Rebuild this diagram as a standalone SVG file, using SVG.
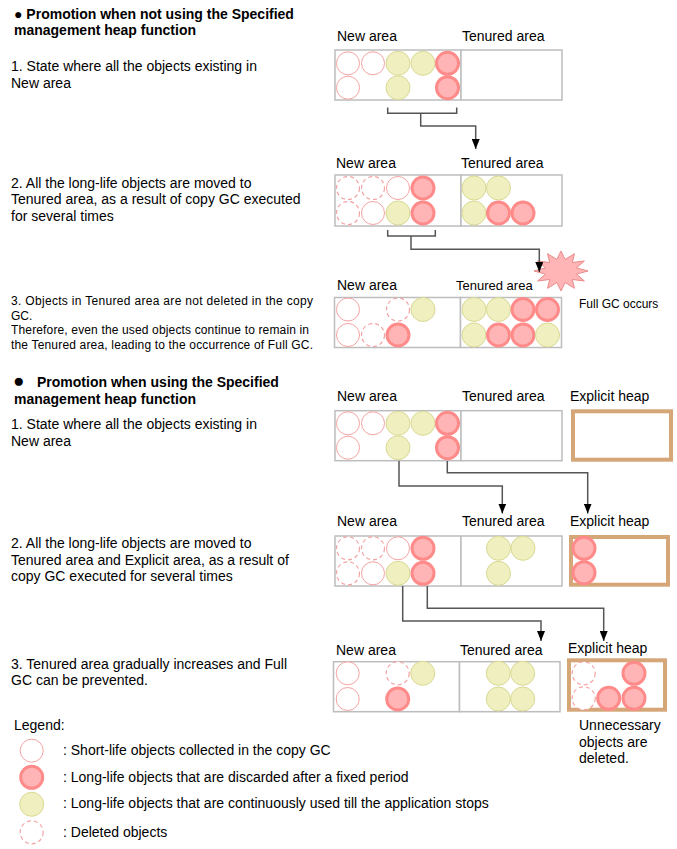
<svg xmlns="http://www.w3.org/2000/svg" width="677" height="849" viewBox="0 0 677 849">
<style>
text{font-family:"Liberation Sans",Arial,sans-serif;font-size:14px;fill:#000}
.b{font-weight:bold}
.sm{font-size:12px}
.box{fill:#fff;stroke:#bdbdbd;stroke-width:1.5}
.exp{fill:#fff;stroke:#d5a677;stroke-width:4}
.s{fill:#fff;stroke:#f4a3a3;stroke-width:1}
.d{fill:#fff;stroke:#f4a3a3;stroke-width:1.2;stroke-dasharray:4 3}
.l{fill:#ffb5b5;stroke:#ff8a8a;stroke-width:3}
.y{fill:#efefc0;stroke:#d9d994;stroke-width:1}
.c{fill:none;stroke:#555;stroke-width:1.5}
.a{marker-end:url(#ah)}
</style>
<defs>
<marker id="ah" viewBox="0 0 10 8" refX="10" refY="4" markerWidth="10" markerHeight="8" orient="auto" markerUnits="userSpaceOnUse">
<path d="M0,0 L10,4 L0,8 z" fill="#000"/>
</marker>
</defs>

<g id="texts-left">
<text class="b" x="14" y="19">● Promotion when not using the Specified</text>
<text class="b" x="14" y="35">management heap function</text>
<text x="11" y="71">1. State where all the objects existing in</text>
<text x="11" y="88">New area</text>
<text x="11" y="188">2. All the long-life objects are moved to</text>
<text x="11" y="204">Tenured area, as a result of copy GC executed</text>
<text x="11" y="221">for several times</text>
<text class="sm" x="11" y="305" textLength="302" lengthAdjust="spacing">3. Objects in Tenured area are not deleted in the copy</text>
<text class="sm" x="11" y="319.5">GC.</text>
<text class="sm" x="11" y="334" textLength="298" lengthAdjust="spacing">Therefore, even the used objects continue to remain in</text>
<text class="sm" x="11" y="348.5" textLength="302" lengthAdjust="spacing">the Tenured area, leading to the occurrence of Full GC.</text>
<text class="b" x="13" y="387" style="font-size:19px">●</text>
<text class="b" x="37" y="387">Promotion when using the Specified</text>
<text class="b" x="14" y="403.5">management heap function</text>
<text x="11" y="429">1. State where all the objects existing in</text>
<text x="11" y="446">New area</text>
<text x="11" y="548">2. All the long-life objects are moved to</text>
<text x="11" y="564.5">Tenured area and Explicit area, as a result of</text>
<text x="11" y="581">copy GC executed for several times</text>
<text x="11" y="668.5">3. Tenured area gradually increases and Full</text>
<text x="11" y="685">GC can be prevented.</text>
</g>

<g id="fullgc-star">
<polygon points="561,251 565.14,259.41 574.5,253.68 572.31,262.51 584.38,261 576.45,267.89 588,271 576.45,274.11 584.38,281 572.31,279.49 574.5,288.32 565.14,282.59 561,291 556.86,282.59 547.5,288.32 549.69,279.49 537.62,281 545.55,274.11 534,271 545.55,267.89 537.62,261 549.69,262.51 547.5,253.68 556.86,259.41" fill="#ffb5b5" stroke="#e98a8a" stroke-width="1"/>
<text class="sm" x="579" y="307.5">Full GC occurs</text>
</g>

<!-- Section 1, step 1 -->
<g id="s1-new-1">
<text x="337" y="41">New area</text>
<rect class="box" x="335" y="50" width="126" height="50"/>
<circle class="s" cx="348" cy="63.3" r="11.5"/><circle class="s" cx="373" cy="63.3" r="11.5"/><circle class="y" cx="398" cy="63.3" r="12"/><circle class="y" cx="423" cy="63.3" r="12"/><circle class="l" cx="447.5" cy="63.3" r="11"/>
<circle class="s" cx="348" cy="87.7" r="11.5"/><circle class="y" cx="398" cy="87.7" r="12"/><circle class="l" cx="447.5" cy="87.7" r="11"/>
</g>
<g id="s1-ten-1">
<text x="462" y="41">Tenured area</text>
<rect class="box" x="461" y="50" width="101" height="50"/>
</g>

<!-- Section 1, step 2 -->
<g id="s1-new-2">
<text x="336" y="168">New area</text>
<rect class="box" x="335" y="175" width="126" height="51"/>
<circle class="d" cx="348" cy="188" r="11.5"/><circle class="d" cx="373" cy="188" r="11.5"/><circle class="s" cx="398" cy="188" r="11.5"/><circle class="l" cx="423" cy="188" r="11"/>
<circle class="d" cx="348" cy="213" r="11.5"/><circle class="s" cx="373" cy="213" r="11.5"/><circle class="y" cx="398" cy="213" r="12"/><circle class="l" cx="423" cy="213" r="11"/>
</g>
<g id="s1-ten-2">
<text x="461" y="168">Tenured area</text>
<rect class="box" x="461" y="175" width="101" height="51"/>
<circle class="y" cx="474" cy="188" r="12"/><circle class="y" cx="498.5" cy="188" r="12"/>
<circle class="y" cx="474" cy="213" r="12"/><circle class="l" cx="498.5" cy="213" r="11"/><circle class="l" cx="523" cy="213" r="11"/>
</g>

<!-- Section 1, step 3 -->
<g id="s1-new-3">
<text x="337" y="290">New area</text>
<rect class="box" x="334.5" y="297.5" width="126" height="50"/>
<circle class="s" cx="348" cy="309.5" r="11.5"/><circle class="d" cx="398" cy="309.5" r="11.5"/><circle class="y" cx="423" cy="309.5" r="12"/>
<circle class="s" cx="348" cy="335" r="11.5"/><circle class="d" cx="373" cy="335" r="11.5"/><circle class="l" cx="398" cy="335" r="11"/>
</g>
<g id="s1-ten-3">
<text x="456" y="290" style="font-size:13px">Tenured area</text>
<rect class="box" x="460.5" y="297.5" width="101" height="50"/>
<circle class="y" cx="474" cy="309.5" r="12"/><circle class="y" cx="498.5" cy="309.5" r="12"/><circle class="l" cx="523" cy="309.5" r="11"/><circle class="l" cx="547.5" cy="309.5" r="11"/>
<circle class="y" cx="474" cy="335" r="12"/><circle class="l" cx="498.5" cy="335" r="11"/><circle class="l" cx="523" cy="335" r="11"/><circle class="y" cx="547.5" cy="335" r="12"/>
</g>

<!-- Section 2, step 1 -->
<g id="s2-new-1">
<text x="337" y="401">New area</text>
<rect class="box" x="335" y="410.7" width="126" height="50"/>
<circle class="s" cx="348" cy="423.3" r="11.5"/><circle class="s" cx="373" cy="423.3" r="11.5"/><circle class="y" cx="398" cy="423.3" r="12"/><circle class="y" cx="423" cy="423.3" r="12"/><circle class="l" cx="447.5" cy="423.3" r="11"/>
<circle class="s" cx="348" cy="447.7" r="11.5"/><circle class="y" cx="398" cy="447.7" r="12"/><circle class="l" cx="447.5" cy="447.7" r="11"/>
</g>
<g id="s2-ten-1">
<text x="462" y="401">Tenured area</text>
<rect class="box" x="461" y="410.7" width="101" height="50"/>
</g>
<g id="s2-exp-1">
<text x="570" y="401">Explicit heap</text>
<rect class="exp" x="573" y="411.3" width="98" height="48.4"/>
</g>

<!-- Section 2, step 2 -->
<g id="s2-new-2">
<text x="337" y="526">New area</text>
<rect class="box" x="335" y="536" width="126" height="50"/>
<circle class="d" cx="348" cy="548.3" r="11.5"/><circle class="d" cx="373" cy="548.3" r="11.5"/><circle class="s" cx="398" cy="548.3" r="11.5"/><circle class="l" cx="423" cy="548.3" r="11"/>
<circle class="d" cx="348" cy="573.3" r="11.5"/><circle class="s" cx="373" cy="573.3" r="11.5"/><circle class="y" cx="398" cy="573.3" r="12"/><circle class="l" cx="423" cy="573.3" r="11"/>
</g>
<g id="s2-ten-2">
<text x="462" y="526">Tenured area</text>
<rect class="box" x="461" y="536" width="101" height="50"/>
<circle class="y" cx="498.5" cy="548.3" r="12"/><circle class="y" cx="523" cy="548.3" r="12"/>
<circle class="y" cx="498.5" cy="573.3" r="12"/>
</g>
<g id="s2-exp-2">
<text x="570" y="526">Explicit heap</text>
<rect class="exp" x="571" y="537" width="97" height="47.7"/>
<circle class="l" cx="584" cy="548.3" r="11"/><circle class="l" cx="584" cy="572.7" r="11"/>
</g>

<!-- Section 2, step 3 -->
<g id="s2-new-3">
<text x="336" y="655">New area</text>
<rect class="box" x="333.5" y="661.7" width="126" height="50"/>
<circle class="s" cx="347.7" cy="673.3" r="11.5"/><circle class="d" cx="397.7" cy="673.3" r="11.5"/><circle class="y" cx="422.7" cy="673.3" r="12"/>
<circle class="s" cx="347.7" cy="699" r="11.5"/><circle class="l" cx="397.7" cy="699" r="11"/>
</g>
<g id="s2-ten-3">
<text x="460" y="655">Tenured area</text>
<rect class="box" x="459.5" y="661.7" width="100.5" height="50"/>
<circle class="y" cx="498.3" cy="673.3" r="12"/><circle class="y" cx="522.7" cy="673.3" r="12"/>
<circle class="y" cx="498.3" cy="699" r="12"/><circle class="y" cx="522.7" cy="699" r="12"/>
</g>
<g id="s2-exp-3">
<text x="568" y="652.7">Explicit heap</text>
<rect class="exp" x="569" y="660.3" width="96" height="49.4"/>
<circle class="d" cx="583.7" cy="673.3" r="11.5"/><circle class="d" cx="583.7" cy="698.3" r="11.5"/>
<circle class="l" cx="608.7" cy="698.3" r="11"/><circle class="l" cx="634" cy="673.3" r="11"/><circle class="l" cx="634" cy="698.3" r="11"/>
<text x="579" y="730">Unnecessary</text>
<text x="579" y="746.5">objects are</text>
<text x="579" y="763">deleted.</text>
</g>

<g id="connectors">
<path class="c" d="M387.7,107.5 V113.3 H456.7 V107.5"/>
<path class="c a" d="M420.7,113.3 V126 H475.7 V149"/>
<path class="c" d="M387.7,230 V236 H435.3 V230"/>
<path class="c a" d="M411,236 V249.3 H539.3 V272"/>
<path class="c a" d="M399,461 V486 H502.3 V513.5"/>
<path class="c a" d="M447.3,461 V472.7 H587.7 V513.5"/>
<path class="c a" d="M402.7,586 V621 H541 V641"/>
<path class="c a" d="M427.3,586 V608.3 H603.7 V641"/>
</g>

<g id="legend">
<text x="14" y="730">Legend:</text>
<circle class="s" cx="31.7" cy="750.7" r="11.5"/>
<text x="63" y="755">: Short-life objects collected in the copy GC</text>
<circle class="l" cx="31.7" cy="777.3" r="11"/>
<text x="63" y="781.7">: Long-life objects that are discarded after a fixed period</text>
<circle class="y" cx="31.7" cy="804.3" r="12"/>
<text x="63" y="808.3">: Long-life objects that are continuously used till the application stops</text>
<circle class="d" cx="31.7" cy="832.3" r="11.5"/>
<text x="63" y="836.7">: Deleted objects</text>
</g>
</svg>
